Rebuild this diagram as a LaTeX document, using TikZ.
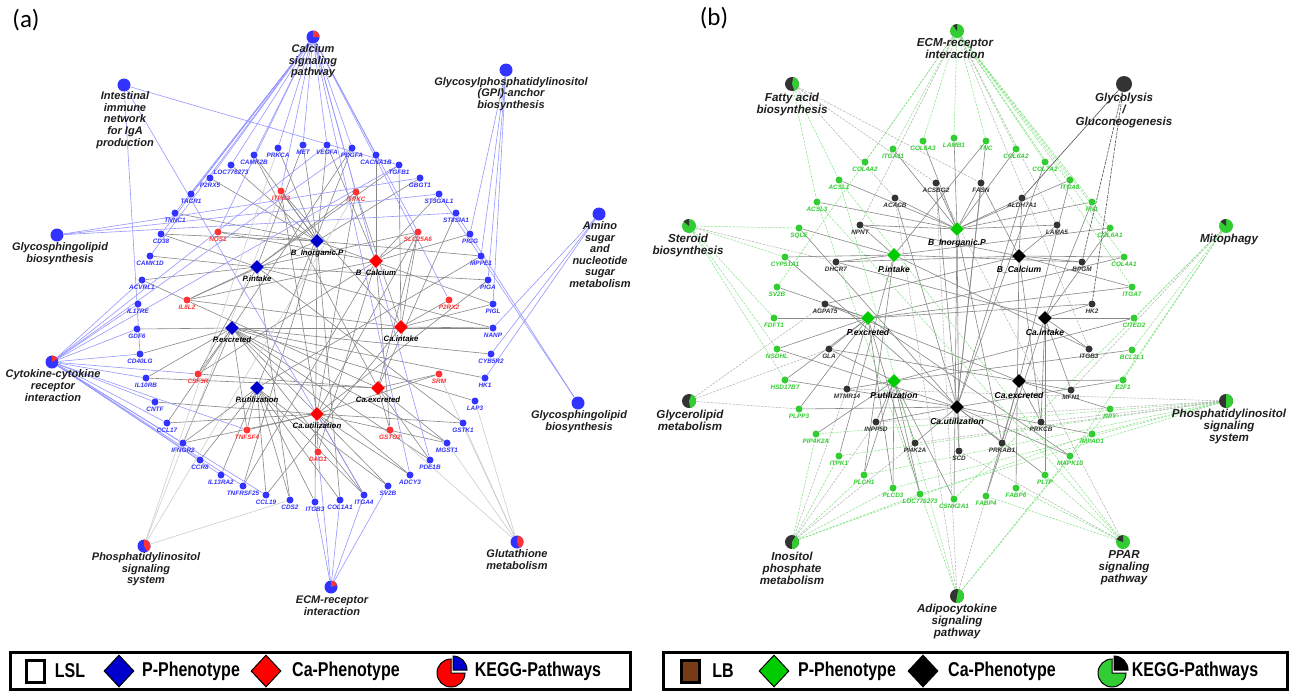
\documentclass[tikz,border=0pt]{standalone}
\usepackage{fontspec}
\setmainfont{Liberation Sans}
\newfontfamily\calfont{Carlito}
\usetikzlibrary{shapes.geometric,backgrounds}
\definecolor{nB}{RGB}{51,51,255}
\definecolor{nR}{RGB}{255,51,51}
\definecolor{dB}{RGB}{0,0,204}
\definecolor{dR}{RGB}{255,0,0}
\definecolor{eB}{RGB}{150,150,255}
\definecolor{eG}{RGB}{135,135,135}
\definecolor{eL}{RGB}{205,205,205}
\definecolor{nG}{RGB}{50,205,50}
\definecolor{nK}{RGB}{51,51,51}
\definecolor{dG}{RGB}{0,204,0}
\definecolor{eGr}{RGB}{130,225,130}
\definecolor{eK}{RGB}{175,175,175}
\definecolor{eKd}{RGB}{80,80,80}
\definecolor{lbBrown}{RGB}{120,60,20}
\definecolor{txK}{RGB}{30,30,30}
\tikzset{
 gdot/.style={circle, inner sep=0pt, minimum size=3.5pt, draw=none},
 glab/.style={inner sep=0pt, font=\fontsize{3.2}{3.6}\selectfont\bfseries\itshape},
 phd/.style={diamond, inner sep=0pt, minimum width=7pt, minimum height=7pt, aspect=1},
 phl/.style={inner sep=0pt, text=black, font=\fontsize{3.9}{4.5}\selectfont\bfseries\itshape},
 phlb/.style={inner sep=0pt, text=black, font=\fontsize{4.3}{5}\selectfont\bfseries\itshape},
 pwa/.style={circle, inner sep=0pt, minimum size=6.5pt},
 pwb/.style={circle, inner sep=0pt, minimum size=7pt},
 pwl/.style={inner sep=0pt, align=center, text=txK, font=\fontsize{5.5}{5.8}\selectfont\bfseries\itshape},
 pwlb/.style={inner sep=0pt, align=center, text=txK, font=\fontsize{5.8}{6}\selectfont\bfseries\itshape},
 ea/.style={eG, line width=0.3pt},
 eab/.style={eB, line width=0.3pt},
 eal/.style={eL, line width=0.3pt},
 ebg/.style={eGr, line width=0.25pt, dash pattern=on 1.2pt off 0.6pt},
 ebk/.style={eK, line width=0.25pt, dash pattern=on 1.2pt off 0.6pt},
 ebkd/.style={eKd, line width=0.3pt, dash pattern=on 1.5pt off 0.5pt},
 legt/.style={inner sep=0pt, font=\fontsize{10}{12}\selectfont\bfseries},
 legd/.style={diamond, inner sep=0pt, draw=black, line width=0.5pt, minimum width=15pt, minimum height=16pt, aspect=1},
}
\newcommand\mkgene[5]{\node[gdot,fill=#4] (#1) at (#2,#3) {};\node[glab,text=#4] (#1-l) at (#2,#3+7.5) {#5};}
\newcommand\mkpha[5]{\node[phd,fill=#4] (#1) at (#2,#3) {};\node[phl] (#1-l) at (#2,#3+12) {#5};}
\newcommand\mkphb[5]{\node[phd,fill=#4] (#1) at (#2,#3) {};\node[phlb] (#1-l) at (#2,#3+14) {#5};}
\begin{document}
\begin{tikzpicture}[x=0.5pt,y=-0.5pt]
\useasboundingbox (0,0) rectangle (1299,691);
% ---------------- panel (a) genes
\mkgene{aCAMK2B}{254}{155}{nB}{CAMK2B}
\mkgene{aPRKCA}{278}{148}{nB}{PRKCA}
\mkgene{aMET}{303}{145}{nB}{MET}
\mkgene{aVEGFA}{327}{145}{nB}{VEGFA}
\mkgene{aPDGFA}{352}{148}{nB}{PDGFA}
\mkgene{aCACNA1B}{376}{155}{nB}{CACNA1B}
\mkgene{aTGFB1}{399}{165}{nB}{TGFB1}
\mkgene{aGBGT1}{420}{178}{nB}{GBGT1}
\mkgene{aST3GAL1}{439}{194}{nB}{ST3GAL1}
\mkgene{aST8SIA1}{456}{213}{nB}{ST8SIA1}
\mkgene{aPIGG}{470}{234}{nB}{PIGG}
\mkgene{aMPPE1}{481}{256}{nB}{MPPE1}
\mkgene{aPIGA}{488}{280}{nB}{PIGA}
\mkgene{aPIGL}{493}{304}{nB}{PIGL}
\mkgene{aNANP}{493}{328}{nB}{NANP}
\mkgene{aCYB5R2}{491}{354}{nB}{CYB5R2}
\mkgene{aHK1}{485}{378}{nB}{HK1}
\mkgene{aLAP3}{475}{401}{nB}{LAP3}
\mkgene{aGSTK1}{463}{423}{nB}{GSTK1}
\mkgene{aMGST1}{447}{443}{nB}{MGST1}
\mkgene{aPDE1B}{430}{460}{nB}{PDE1B}
\mkgene{aADCY3}{410}{475}{nB}{ADCY3}
\mkgene{aSV2B}{388}{486}{nB}{SV2B}
\mkgene{aITGA4}{364}{495}{nB}{ITGA4}
\mkgene{aCOL1A1}{340}{500}{nB}{COL1A1}
\mkgene{aITGB3}{315}{502}{nB}{ITGB3}
\mkgene{aCDS2}{290}{500}{nB}{CDS2}
\mkgene{aCCL19}{266}{495}{nB}{CCL19}
\mkgene{aTNFRSF25}{243}{486}{nB}{TNFRSF25}
\mkgene{aIL13RA2}{221}{475}{nB}{IL13RA2}
\mkgene{aCCR8}{200}{460}{nB}{CCR8}
\mkgene{aIFNGR2}{183}{443}{nB}{IFNGR2}
\mkgene{aCCL17}{167}{423}{nB}{CCL17}
\mkgene{aCNTF}{155}{402}{nB}{CNTF}
\mkgene{aIL10RB}{146}{378}{nB}{IL10RB}
\mkgene{aCD40LG}{140}{354}{nB}{CD40LG}
\mkgene{aGDF6}{137}{329}{nB}{GDF6}
\mkgene{aIL17RE}{138}{304}{nB}{IL17RE}
\mkgene{aACVRL1}{142}{280}{nB}{ACVRL1}
\mkgene{aCAMK1D}{150}{256}{nB}{CAMK1D}
\mkgene{aCD38}{161}{234}{nB}{CD38}
\mkgene{aTNNC1}{175}{213}{nB}{TNNC1}
\mkgene{aTACR1}{191}{194}{nB}{TACR1}
\mkgene{aP2RX5}{210}{178}{nB}{P2RX5}
\mkgene{aLOC}{231}{165}{nB}{LOC776273}
\mkgene{aITPR3}{281}{191}{nR}{ITPR3}
\mkgene{aITPKC}{356}{192}{nR}{ITPKC}
\mkgene{aNOS1}{218}{232}{nR}{NOS1}
\mkgene{aSLC25A6}{418}{232}{nR}{SLC25A6}
\mkgene{aIL8L2}{187}{300}{nR}{IL8L2}
\mkgene{aP2RX2}{449}{300}{nR}{P2RX2}
\mkgene{aCSF3R}{198}{374}{nR}{CSF3R}
\mkgene{aSRM}{439}{374}{nR}{SRM}
\mkgene{aTNFSF4}{247}{430}{nR}{TNFSF4}
\mkgene{aGSTO2}{390}{430}{nR}{GSTO2}
\mkgene{aDAG1}{318}{452}{nR}{DAG1}
% phenotypes (a)
\mkpha{aBIP}{317}{241}{dB}{B\_Inorganic.P}
\mkpha{aPI}{257}{267}{dB}{P.intake}
\mkpha{aPE}{232}{328}{dB}{P.excreted}
\mkpha{aPU}{257}{388}{dB}{P.utilization}
\mkpha{aBC}{376}{261}{dR}{B\_Calcium}
\mkpha{aCI}{401}{327}{dR}{Ca.intake}
\mkpha{aCE}{378}{388}{dR}{Ca.excreted}
\mkpha{aCU}{317}{414}{dR}{Ca.utilization}
% pathways (a)
\node[pwa,fill=nB] (aCal) at (313,37) {};
\fill[nR] (aCal.center) -- ++(0:6.5) arc (0:-90:6.5) -- cycle;
\node[pwl] (aCal-l) at (313,61.5) {Calcium\\signaling\\pathway};
\node[pwa,fill=nB] (aInt) at (124,85) {};
\node[pwl] (aInt-l) at (125,120) {Intestinal\\immune\\network\\for IgA\\production};
\node[pwa,fill=nB] (aGPI) at (506,70) {};
\node[pwl] (aGPI-l) at (511,94) {Glycosylphosphatidylinositol\\(GPI)-anchor\\biosynthesis};
\node[pwa,fill=nB] (aGlyL) at (57,235) {};
\node[pwl] (aGlyL-l) at (60,253.5) {Glycosphingolipid\\biosynthesis};
\node[pwa,fill=nB] (aAmino) at (599,214) {};
\node[pwl] (aAmino-l) at (600,254.5) {Amino\\sugar\\and\\nucleotide\\sugar\\metabolism};
\node[pwa,fill=nB] (aCyto) at (52,362) {};
\fill[nR] (aCyto.center) -- ++(-30:6.5) arc (-30:-90:6.5) -- cycle;
\node[pwl] (aCyto-l) at (53,385.5) {Cytokine-cytokine\\receptor\\interaction};
\node[pwa,fill=nB] (aGlyR) at (578,403) {};
\node[pwl] (aGlyR-l) at (579,421.5) {Glycosphingolipid\\biosynthesis};
\node[pwa,fill=nB] (aPhos) at (144,546) {};
\fill[nR] (aPhos.center) -- ++(60:6.5) arc (60:-90:6.5) -- cycle;
\node[pwl] (aPhos-l) at (146,569.5) {Phosphatidylinositol\\signaling\\system};
\node[pwa,fill=nB] (aGlut) at (517,542) {};
\fill[nR] (aGlut.center) -- ++(70:6.5) arc (70:-80:6.5) -- cycle;
\node[pwl] (aGlut-l) at (517,559.5) {Glutathione\\metabolism};
\node[pwa,fill=nB] (aECM) at (331,587) {};
\fill[nR] (aECM.center) -- ++(-20:6.5) arc (-20:-90:6.5) -- cycle;
\node[pwl] (aECM-l) at (332,605.5) {ECM-receptor\\interaction};
% ---------------- panel (b) genes
\mkgene{bCOL6A3}{923}{141}{nG}{COL6A3}
\mkgene{bLAMB1}{954}{138}{nG}{LAMB1}
\mkgene{bITGA11}{893}{149}{nG}{ITGA11}
\mkgene{bCOL4A2}{865}{162}{nG}{COL4A2}
\mkgene{bACSL1}{839}{180}{nG}{ACSL1}
\mkgene{bACSL3}{817}{202}{nG}{ACSL3}
\mkgene{bSQLE}{799}{228}{nG}{SQLE}
\mkgene{bCYP51A1}{785}{257}{nG}{CYP51A1}
\mkgene{bSV2B}{777}{287}{nG}{SV2B}
\mkgene{bFDFT1}{774}{318}{nG}{FDFT1}
\mkgene{bNSDHL}{777}{349}{nG}{NSDHL}
\mkgene{bHSD17B7}{785}{380}{nG}{HSD17B7}
\mkgene{bPLPP3}{799}{409}{nG}{PLPP3}
\mkgene{bPIP4K2A}{816}{434}{nG}{PIP4K2A}
\mkgene{bITPK1}{839}{456}{nG}{ITPK1}
\mkgene{bPLCH1}{864}{475}{nG}{PLCH1}
\mkgene{bPLCD3}{893}{488}{nG}{PLCD3}
\mkgene{bLOC}{920}{494}{nG}{LOC776273}
\mkgene{bCSNK2A1}{954}{499}{nG}{CSNK2A1}
\mkgene{bFABP4}{986}{496}{nG}{FABP4}
\mkgene{bFABP6}{1016}{488}{nG}{FABP6}
\mkgene{bPLTP}{1045}{475}{nG}{PLTP}
\mkgene{bMAPK10}{1070}{456}{nG}{MAPK10}
\mkgene{bIMPAD1}{1092}{434}{nG}{IMPAD1}
\mkgene{bNPY}{1110}{409}{nG}{NPY}
\mkgene{bE2F1}{1123}{380}{nG}{E2F1}
\mkgene{bBCL2L1}{1132}{350}{nG}{BCL2L1}
\mkgene{bCITED2}{1134}{318}{nG}{CITED2}
\mkgene{bITGA7}{1132}{287}{nG}{ITGA7}
\mkgene{bCOL4A1}{1124}{257}{nG}{COL4A1}
\mkgene{bCOL6A1}{1110}{228}{nG}{COL6A1}
\mkgene{bFN1}{1092}{202}{nG}{FN1}
\mkgene{bITGA8}{1070}{180}{nG}{ITGA8}
\mkgene{bCOL7A2}{1045}{162}{nG}{COL7A2}
\mkgene{bCOL6A2}{1016}{149}{nG}{COL6A2}
\mkgene{bTNC}{986}{141}{nG}{TNC}
\mkgene{bACSBG2}{936}{183}{nK}{ACSBG2}
\mkgene{bACACB}{895}{198}{nK}{ACACB}
\mkgene{bNPNT}{860}{225}{nK}{NPNT}
\mkgene{bDHCR7}{836}{262}{nK}{DHCR7}
\mkgene{bAGPAT5}{825}{304}{nK}{AGPAT5}
\mkgene{bGLA}{829}{349}{nK}{GLA}
\mkgene{bMTMR14}{847}{389}{nK}{MTMR14}
\mkgene{bINPP5D}{876}{422}{nK}{INPP5D}
\mkgene{bPI4K2A}{915}{443}{nK}{PI4K2A}
\mkgene{bSCD}{959}{451}{nK}{SCD}
\mkgene{bPRKAB1}{1002}{443}{nK}{PRKAB1}
\mkgene{bPRKCB}{1041}{422}{nK}{PRKCB}
\mkgene{bMFN1}{1071}{390}{nK}{MFN1}
\mkgene{bITGB3}{1089}{349}{nK}{ITGB3}
\mkgene{bHK2}{1092}{304}{nK}{HK2}
\mkgene{bBPGM}{1082}{262}{nK}{BPGM}
\mkgene{bLAMA5}{1057}{225}{nK}{LAMA5}
\mkgene{bALDH7A1}{1022}{198}{nK}{ALDH7A1}
\mkgene{bFASN}{981}{183}{nK}{FASN}
% phenotypes (b)
\mkphb{bBIP}{957}{229}{dG}{B\_Inorganic.P}
\mkphb{bPI}{894}{255}{dG}{P.intake}
\mkphb{bPE}{868}{318}{dG}{P.excreted}
\mkphb{bPU}{894}{381}{dG}{P.utilization}
\mkphb{bBC}{1019}{256}{black}{B\_Calcium}
\mkphb{bCI}{1045}{318}{black}{Ca.intake}
\mkphb{bCE}{1019}{381}{black}{Ca.excreted}
\mkphb{bCU}{957}{407}{black}{Ca.utilization}
% pathways (b)
\node[pwb,fill=nG] (bECM) at (957,31) {};
\fill[nK] (bECM.center) -- ++(-90:7) arc (-90:-125:7) -- cycle;
\node[pwlb] (bECM-l) at (955,49) {ECM-receptor\\interaction};
\node[pwb,fill=nK] (bFat) at (792,84) {};
\fill[nG] (bFat.center) -- ++(70:7) arc (70:-80:7) -- cycle;
\node[pwlb] (bFat-l) at (792,104) {Fatty acid\\biosynthesis};
\node[pwb,fill=nK,minimum size=8pt] (bGlyc) at (1124,84) {};
\node[pwlb] (bGlyc-l) at (1124,110) {Glycolysis\\/\\Gluconeogenesis};
\node[pwb,fill=nG] (bSter) at (689,226) {};
\fill[nK] (bSter.center) -- ++(-90:7) arc (-90:-140:7) -- cycle;
\node[pwlb] (bSter-l) at (688,245) {Steroid\\biosynthesis};
\node[pwb,fill=nG] (bMito) at (1226,226) {};
\fill[nK] (bMito.center) -- ++(-90:7) arc (-90:-140:7) -- cycle;
\node[pwlb] (bMito-l) at (1229,239) {Mitophagy};
\node[pwb,fill=nK] (bGlyL) at (689,401) {};
\fill[nG] (bGlyL.center) -- ++(80:7) arc (80:-70:7) -- cycle;
\node[pwlb] (bGlyL-l) at (690,420) {Glycerolipid\\metabolism};
\node[pwb,fill=nK] (bPhos) at (1226,401) {};
\fill[nG] (bPhos.center) -- ++(90:7) arc (90:-90:7) -- cycle;
\node[pwlb] (bPhos-l) at (1229,426.5) {Phosphatidylinositol\\signaling\\system};
\node[pwb,fill=nK] (bIno) at (792,542) {};
\fill[nG] (bIno.center) -- ++(90:7) arc (90:-60:7) -- cycle;
\node[pwlb] (bIno-l) at (792,568) {Inositol\\phosphate\\metabolism};
\node[pwb,fill=nG] (bPPAR) at (1123,542) {};
\fill[nK] (bPPAR.center) -- ++(-90:7) arc (-90:-160:7) -- cycle;
\node[pwlb] (bPPAR-l) at (1124,568) {PPAR\\signaling\\pathway};
\node[pwb,fill=nK] (bAdipo) at (957,596) {};
\fill[nG] (bAdipo.center) -- ++(100:7) arc (100:-80:7) -- cycle;
\node[pwlb] (bAdipo-l) at (957,621) {Adipocytokine\\signaling\\pathway};
% panel tags
\node[inner sep=0pt, font=\calfont\fontsize{12.5}{14}\selectfont] (tagA) at (26,20) {(a)};
\node[inner sep=0pt, font=\calfont\fontsize{12.5}{14}\selectfont] (tagB) at (714,18) {(b)};
% ---------------- edges
\begin{pgfonlayer}{background}
\fill[white] (0,0) rectangle (1299,691);
% (a) phenotype-gene
\foreach \g in {CAMK2B,PRKCA,MET,VEGFA,P2RX5,TNNC1,NOS1,ITPR3,GBGT1,MPPE1,PIGL,LOC,CD38,ITGB3,COL1A1,TNFRSF25,IL8L2} \draw[ea] (aBIP) -- (a\g);
\foreach \g in {CAMK1D,ACVRL1,IL8L2,PIGA,NANP,ITPKC,SLC25A6,TGFB1,MET,CD38,CSF3R,GSTK1,CDS2} \draw[ea] (aPI) -- (a\g);
\foreach \g in {HK1,CYB5R2,NANP,LAP3,MGST1,CCL17,IFNGR2,CSF3R,GDF6,CD40LG,PDE1B,ADCY3,SV2B,ITGA4,PDGFA,TNFSF4,IL10RB} \draw[ea] (aPE) -- (a\g);
\foreach \g in {TNFSF4,IL13RA2,CCL19,CDS2,ITGB3,COL1A1,ITGA4,IFNGR2,CCR8,SV2B,PDGFA,MPPE1} \draw[ea] (aPU) -- (a\g);
\foreach \g in {ST3GAL1,SLC25A6,PIGG,CACNA1B,VEGFA,IL8L2,CSF3R,TNFRSF25,DAG1,GSTO2,NOS1} \draw[ea] (aBC) -- (a\g);
\foreach \g in {P2RX2,NANP,SLC25A6,ITPR3,IL8L2,PIGL,CCL19,ITPKC,TGFB1} \draw[ea] (aCI) -- (a\g);
\foreach \g in {SRM,GSTO2,CSF3R,SLC25A6,MGST1,PDE1B,IL10RB,ACVRL1,ST8SIA1,CAMK2B} \draw[ea] (aCE) -- (a\g);
\foreach \g in {DAG1,TNFSF4,CCL17,ITPR3,ITPKC,SRM,GSTK1,MGST1,SLC25A6,PIGA,CNTF,ADCY3,IFNGR2,ITGA4} \draw[ea] (aCU) -- (a\g);
% (a) pathway-gene
\foreach \g in {CAMK2B,PRKCA,MET,VEGFA,PDGFA,CACNA1B,LOC,P2RX5,TACR1,TNNC1,CD38,ADCY3,PDE1B,CAMK1D,ITPR3,ITPKC,NOS1,SLC25A6,P2RX2} \draw[eab] (aCal) -- (a\g);
\foreach \g in {TGFB1,CD40LG,ITGA4} \draw[eab] (aInt) -- (a\g);
\foreach \g in {GBGT1,ST3GAL1,ST8SIA1} \draw[eab] (aGlyL) -- (a\g);
\foreach \g in {ST3GAL1,ST8SIA1} \draw[eab] (aGlyR) -- (a\g);
\foreach \g in {PIGG,MPPE1,PIGA,PIGL} \draw[eab] (aGPI) -- (a\g);
\foreach \g in {NANP,CYB5R2,HK1} \draw[eab] (aAmino) -- (a\g);
\foreach \g in {ACVRL1,IL17RE,GDF6,CD40LG,IL10RB,CSF3R,CNTF,CCL17,IFNGR2,CCR8,IL13RA2,TNFRSF25,CCL19,TNFSF4,TGFB1,VEGFA,PDGFA} \draw[eab] (aCyto) -- (a\g);
\foreach \g in {ITPR3,ITPKC,PRKCA,CDS2} \draw[eal] (aPhos) -- (a\g);
\foreach \g in {GSTO2,SRM,LAP3,GSTK1,MGST1} \draw[eal] (aGlut) -- (a\g);
\foreach \g in {ITGB3,COL1A1,ITGA4,SV2B,DAG1} \draw[eab] (aECM) -- (a\g);
% (b) phenotype-gene
\foreach \g in {ACACB,ACSBG2,FASN,ALDH7A1,COL6A3,LAMB1,ITGA11,ACSL1,ACSL3,NPNT,COL6A2,ITGA8,FN1,SCD,PRKAB1,CSNK2A1,LAMA5} \draw[ea] (bBIP) -- (b\g);
\foreach \g in {SQLE,CYP51A1,NPNT,DHCR7,TNC,BPGM,COL6A1,ITGB3,PLCH1,ITPK1} \draw[ea] (bPI) -- (b\g);
\foreach \g in {AGPAT5,GLA,FDFT1,SV2B,NSDHL,HSD17B7,PLPP3,MTMR14,PLCD3,LOC,HK2,COL4A1,ITGA7,MAPK10} \draw[ea] (bPE) -- (b\g);
\foreach \g in {MTMR14,INPP5D,PIP4K2A,PLCH1,PLCD3,LOC,CSNK2A1,PI4K2A,GLA,CITED2,BCL2L1} \draw[ea] (bPU) -- (b\g);
\foreach \g in {FASN,ALDH7A1,LAMA5,BPGM,ITGA7,COL4A1,AGPAT5,NPNT,DHCR7,PRKCB,FABP6} \draw[ea] (bBC) -- (b\g);
\foreach \g in {HK2,CITED2,ITGB3,MFN1,PRKCB,FN1,COL6A1,DHCR7,FABP4,PLTP} \draw[ea] (bCI) -- (b\g);
\foreach \g in {MFN1,PRKCB,E2F1,NPY,GLA,AGPAT5,ITGA8,FABP4,PRKAB1} \draw[ea] (bCE) -- (b\g);
\foreach \g in {SCD,PI4K2A,INPP5D,PRKAB1,ALDH7A1,ACSBG2,FASN,ACACB,PLPP3,IMPAD1,MAPK10,PLTP,SQLE,CYP51A1,E2F1,HSD17B7,NSDHL,COL7A2,TNC} \draw[ea] (bCU) -- (b\g);
% (b) pathway-gene
\foreach \g in {COL6A3,LAMB1,TNC,ITGA11,COL4A2,COL6A2,COL7A2,ITGA8,FN1,COL6A1,COL4A1,ITGA7,SV2B} \draw[ebg] (bECM) -- (b\g);
\foreach \g in {ITGB3,LAMA5,NPNT} \draw[ebk] (bECM) -- (b\g);
\foreach \g in {ACACB,FASN,ACSBG2} \draw[ebk] (bFat) -- (b\g);
\foreach \g in {ACSL1,ACSL3} \draw[ebg] (bFat) -- (b\g);
\draw[eKd, line width=0.3pt] (bGlyc) -- (bALDH7A1);
\foreach \g in {BPGM,HK2} \draw[ebkd] (bGlyc) -- (b\g);
\foreach \g in {SQLE,CYP51A1,FDFT1,NSDHL,HSD17B7} \draw[ebg] (bSter) -- (b\g);
\draw[ebk] (bSter) -- (bDHCR7);
\foreach \g in {CITED2,BCL2L1,E2F1,CSNK2A1,MAPK10} \draw[ebg] (bMito) -- (b\g);
\draw[ebk] (bMito) -- (bMFN1);
\foreach \g in {AGPAT5,GLA} \draw[ebk] (bGlyL) -- (b\g);
\draw[ebk] (bGlyL) -- (bPLPP3);
\foreach \g in {PIP4K2A,ITPK1,PLCH1,PLCD3,LOC,IMPAD1} \draw[ebg] (bIno) -- (b\g);
\foreach \g in {MTMR14,INPP5D,PI4K2A} \draw[ebk] (bIno) -- (b\g);
\foreach \g in {PIP4K2A,ITPK1,PLCH1,PLCD3,IMPAD1,LOC} \draw[ebg] (bPhos) -- (b\g);
\foreach \g in {INPP5D,MTMR14,PI4K2A,PRKCB} \draw[ebk] (bPhos) -- (b\g);
\foreach \g in {ACSL1,ACSL3,NPY,MAPK10} \draw[ebg] (bAdipo) -- (b\g);
\foreach \g in {ACSBG2,PRKAB1,ACACB} \draw[ebk] (bAdipo) -- (b\g);
\foreach \g in {FABP4,FABP6,PLTP,ACSL1,ACSL3} \draw[ebg] (bPPAR) -- (b\g);
\foreach \g in {SCD,ACSBG2} \draw[ebk] (bPPAR) -- (b\g);
\end{pgfonlayer}
% ---------------- legends
\draw[line width=1.5pt] (10,652) rectangle (630,689);
\node[draw=black, line width=1.5pt, fill=white, minimum width=9pt, minimum height=11pt, inner sep=0pt] (lgA1) at (35,671) {};
\node[legt] (lgA1t) at (70,671) {\scalebox{0.8}[1]{LSL}};
\node[legd, fill=dB] (lgA2) at (119,671) {};
\node[legt] (lgA2t) at (191,671) {\scalebox{0.8}[1]{P-Phenotype}};
\node[legd, fill=dR] (lgA3) at (266,671) {};
\node[legt] (lgA3t) at (346,671) {\scalebox{0.8}[1]{Ca-Phenotype}};
\coordinate (lgA4) at (451,673);
\filldraw[fill=dR, draw=black, line width=0.5pt] (lgA4) -- ++(-90:14) arc (-90:-360:14) -- cycle;
\filldraw[fill=dB, draw=black, line width=0.5pt] ([shift={(2,-3)}]lgA4) -- ++(0:14) arc (0:-90:14) -- cycle;
\node[legt] (lgA4t) at (538,671) {\scalebox{0.8}[1]{KEGG-Pathways}};
\draw[line width=1.5pt] (663,652) rectangle (1287,689);
\node[draw=black, line width=1.5pt, fill=lbBrown, minimum width=9pt, minimum height=11pt, inner sep=0pt] (lgB1) at (690,671) {};
\node[legt] (lgB1t) at (723,671) {\scalebox{0.8}[1]{LB}};
\node[legd, fill=dG] (lgB2) at (774,671) {};
\node[legt] (lgB2t) at (847,671) {\scalebox{0.8}[1]{P-Phenotype}};
\node[legd, fill=black] (lgB3) at (923,671) {};
\node[legt] (lgB3t) at (1002,671) {\scalebox{0.8}[1]{Ca-Phenotype}};
\coordinate (lgB4) at (1112,673);
\filldraw[fill=nG, draw=black, line width=0.5pt] (lgB4) -- ++(-90:14) arc (-90:-360:14) -- cycle;
\filldraw[fill=black, draw=black, line width=0.5pt] ([shift={(2,-3)}]lgB4) -- ++(0:14) arc (0:-90:14) -- cycle;
\node[legt] (lgB4t) at (1195,671) {\scalebox{0.8}[1]{KEGG-Pathways}};
\end{tikzpicture}
\end{document}
